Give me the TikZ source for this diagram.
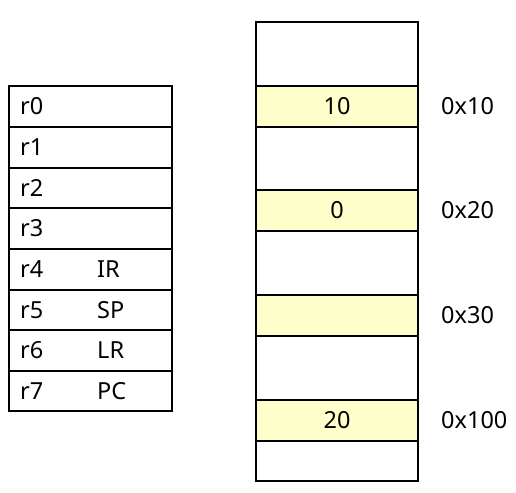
\documentclass[tikz,border=0pt]{standalone}
\usepackage{fontspec}
\setmainfont{Noto Sans}
\definecolor{cellyellow}{HTML}{FFFFCC}
\begin{document}
\begin{tikzpicture}[x=1pt,y=-1pt,
  cell/.style={draw=black,line width=1.1pt},
  txt/.style={font=\fontsize{23.5}{28}\selectfont,inner sep=0pt,anchor=west},
  ctxt/.style={font=\fontsize{23.5}{28}\selectfont,inner sep=0pt}]
\useasboundingbox (0,0) rectangle (516,492);
% register file
\foreach \i/\yt/\yb/\r/\n in {0/86/127/r0/,1/127/168/r1/,2/168/208/r2/,3/208/249/r3/,4/249/290/r4/IR,5/290/330/r5/SP,6/330/371/r6/LR,7/371/411/r7/PC}{
  \draw[cell] (9,\yt) rectangle (172,\yb);
  \node[txt] (reg\i) at (20,{(\yt+\yb)/2}) {\r};
  \node[txt] (alias\i) at (97,{(\yt+\yb)/2}) {\n};
}
% memory
\draw[cell] (256,22) rectangle (418,86);
\draw[cell,fill=cellyellow] (256,86) rectangle (418,127);
\draw[cell] (256,127) rectangle (418,190);
\draw[cell,fill=cellyellow] (256,190) rectangle (418,231);
\draw[cell] (256,231) rectangle (418,295);
\draw[cell,fill=cellyellow] (256,295) rectangle (418,336);
\draw[cell] (256,336) rectangle (418,400);
\draw[cell,fill=cellyellow] (256,400) rectangle (418,441);
\draw[cell] (256,441) rectangle (418,481);
\node[ctxt] (m1) at (337,106.5) {10};
\node[ctxt] (m2) at (337,210.5) {0};
\node[ctxt] (m4) at (337,420.5) {20};
\node[txt] (a1) at (441,106.5) {0x10};
\node[txt] (a2) at (441,210.5) {0x20};
\node[txt] (a3) at (441,315.5) {0x30};
\node[txt] (a4) at (441,420.5) {0x100};
\end{tikzpicture}
\end{document}
